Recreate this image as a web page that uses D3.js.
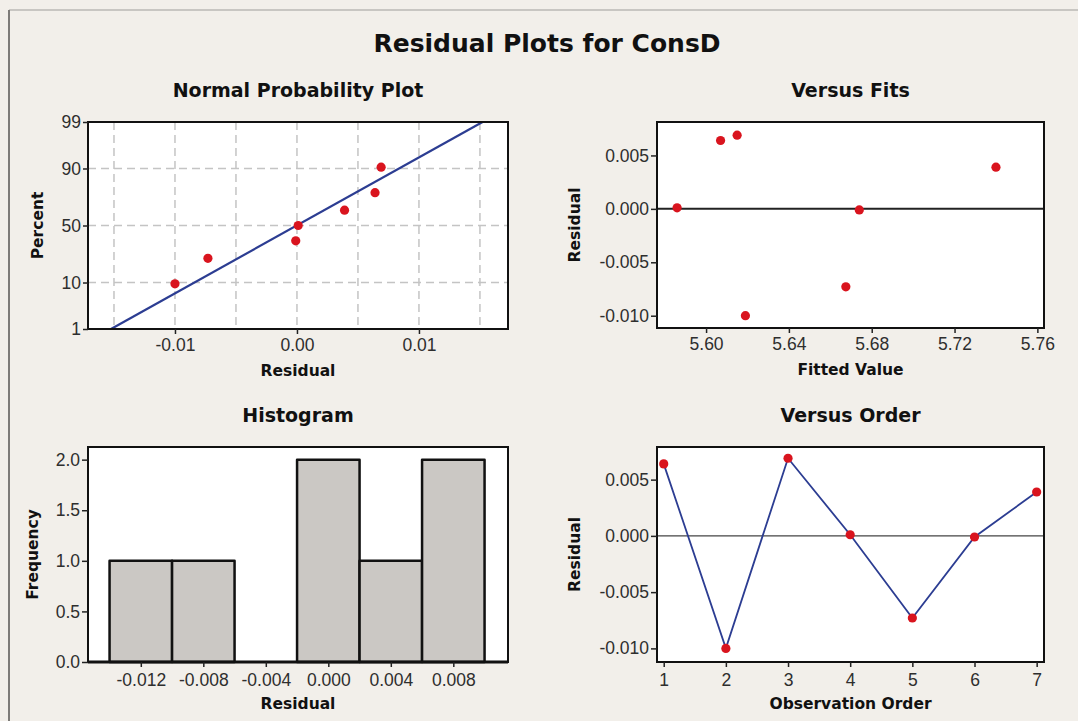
<!DOCTYPE html>
<html>
<head>
<meta charset="utf-8">
<script src="https://cdn.jsdelivr.net/npm/d3@7"></script>
<style>
  html, body { margin: 0; padding: 0; background: #f2efea; }
  svg { display: block; }
  .tick text { font-family: "Liberation Sans", Arial, sans-serif; font-size: 17.5px; fill: #2e2e2e; }
  .tick line { stroke: #222; stroke-width: 1.5; }
  .ttl { font-family: "DejaVu Sans", Verdana, sans-serif; font-weight: bold; fill: #111; text-anchor: middle; }
</style>
</head>
<body>
<svg id="chart" width="1078" height="721"></svg>
<script>
// Residuals of ConsD in observation order, and the fitted values they belong to
const observation = [1, 2, 3, 4, 5, 6, 7];
const residuals = [0.0064, -0.0100, 0.0069, 0.0001, -0.0073, -0.0001, 0.0039];
const fitted = [5.607, 5.619, 5.615, 5.586, 5.6675, 5.674, 5.740];

// Plotting positions (percent) of the sorted residuals on the normal probability plot
const probPercent = [9.5, 23.0, 36.5, 50.0, 63.5, 77.0, 90.5];

// Histogram bins (centres) and their frequencies
const binCenters = [-0.012, -0.008, -0.004, 0.000, 0.004, 0.008];
const binCounts = [1, 1, 0, 2, 1, 2];
const binWidth = 0.004;

// Tick labels
const probTicks = [1, 10, 50, 90, 99];
const probResidTicks = [-0.01, 0.00, 0.01];
const probGrid = [-0.015, -0.01, -0.005, 0, 0.005, 0.01, 0.015];
const residTicks = [0.005, 0.000, -0.005, -0.010];
const fitTicks = [5.60, 5.64, 5.68, 5.72, 5.76];
const freqTicks = [0.0, 0.5, 1.0, 1.5, 2.0];
const histTicks = [-0.012, -0.008, -0.004, 0.000, 0.004, 0.008];
const orderTicks = [1, 2, 3, 4, 5, 6, 7];

// number formats that use a plain hyphen for negatives
const locale = d3.formatLocale({ decimal: ".", thousands: ",", grouping: [3], currency: ["", ""], minus: "-" });
const fmt = s => locale.format(s);

// Inverse of the standard normal CDF (Acklam's rational approximation)
function probit(p) {
  const a = [-3.969683028665376e+01, 2.209460984245205e+02, -2.759285104469687e+02, 1.383577518672690e+02, -3.066479806614716e+01, 2.506628277459239e+00];
  const b = [-5.447609879822406e+01, 1.615858368580409e+02, -1.556989798598866e+02, 6.680131188771972e+01, -1.328068155288572e+01];
  const c = [-7.784894002430293e-03, -3.223964580411365e-01, -2.400758277161838e+00, -2.549732539343734e+00, 4.374664141464968e+00, 2.938163982698783e+00];
  const d = [7.784695709041462e-03, 3.224671290700398e-01, 2.445134137142996e+00, 3.754408661907416e+00];
  const pl = 0.02425, ph = 1 - pl;
  let q, r;
  if (p < pl) {
    q = Math.sqrt(-2 * Math.log(p));
    return (((((c[0]*q+c[1])*q+c[2])*q+c[3])*q+c[4])*q+c[5]) / ((((d[0]*q+d[1])*q+d[2])*q+d[3])*q+1);
  } else if (p <= ph) {
    q = p - 0.5; r = q * q;
    return (((((a[0]*r+a[1])*r+a[2])*r+a[3])*r+a[4])*r+a[5])*q / (((((b[0]*r+b[1])*r+b[2])*r+b[3])*r+b[4])*r+1);
  } else {
    q = Math.sqrt(-2 * Math.log(1 - p));
    return -(((((c[0]*q+c[1])*q+c[2])*q+c[3])*q+c[4])*q+c[5]) / ((((d[0]*q+d[1])*q+d[2])*q+d[3])*q+1);
  }
}

const svg = d3.select("#chart");
const RED = "#d9141e", BLUE = "#2c3d92";

// page background and the window frame lines
svg.append("rect").attr("width", 1078).attr("height", 721).attr("fill", "#f2efea");
svg.append("line").attr("x1", 9).attr("x2", 1078).attr("y1", 10).attr("y2", 10)
  .attr("stroke", "#c8c6c2").attr("stroke-width", 2);
svg.append("line").attr("x1", 9).attr("x2", 9).attr("y1", 10).attr("y2", 721)
  .attr("stroke", "#7d7b78").attr("stroke-width", 2);

svg.append("text").attr("class", "ttl").attr("x", 547).attr("y", 52)
  .style("font-size", "25px").text("Residual Plots for ConsD");

function panelBox(p) {
  svg.append("rect").attr("x", p.x0).attr("y", p.y0)
    .attr("width", p.x1 - p.x0).attr("height", p.y1 - p.y0)
    .attr("fill", "#fff");
}
function panelFrame(p) {
  svg.append("rect").attr("x", p.x0).attr("y", p.y0)
    .attr("width", p.x1 - p.x0).attr("height", p.y1 - p.y0)
    .attr("fill", "none").attr("stroke", "#111").attr("stroke-width", 2);
}
function drawAxis(axis, tx, ty) {
  const g = svg.append("g").attr("transform", `translate(${tx},${ty})`).call(axis);
  g.select(".domain").remove();
  return g;
}
function titles(p, title, xlab, ylab, ylabX) {
  const cx = (p.x0 + p.x1) / 2;
  svg.append("text").attr("class", "ttl").attr("x", cx).attr("y", p.y0 - 25)
    .style("font-size", "19px").text(title);
  svg.append("text").attr("class", "ttl").attr("x", cx).attr("y", p.y1 + 47)
    .style("font-size", "15.5px").text(xlab);
  svg.append("text").attr("class", "ttl")
    .attr("transform", `translate(${ylabX},${(p.y0 + p.y1) / 2}) rotate(-90)`)
    .style("font-size", "15.5px").text(ylab);
}

// ---------- Normal Probability Plot ----------
const p1 = { x0: 88, x1: 508, y0: 122, y1: 329 };
const x1 = d3.scaleLinear().domain([-0.01713, 0.0173]).range([p1.x0, p1.x1]);
const y1 = d3.scaleLinear().domain([probit(0.01), probit(0.99)]).range([p1.y1, p1.y0]);
panelBox(p1);
const grid = svg.append("g").attr("stroke", "#c4c4c4").attr("stroke-width", 1.5)
  .attr("stroke-dasharray", "8,5");
grid.selectAll(".gv").data(probGrid).join("line")
  .attr("x1", d => x1(d)).attr("x2", d => x1(d)).attr("y1", p1.y0).attr("y2", p1.y1);
grid.selectAll(".gh").data([10, 50, 90]).join("line")
  .attr("x1", p1.x0).attr("x2", p1.x1)
  .attr("y1", d => y1(probit(d / 100))).attr("y2", d => y1(probit(d / 100)));

const mu = d3.mean(residuals), sd = d3.deviation(residuals);
const zEnds = [probit(0.01), probit(0.99)];
svg.append("line")
  .attr("x1", x1(mu + sd * zEnds[0])).attr("y1", y1(zEnds[0]))
  .attr("x2", x1(mu + sd * zEnds[1])).attr("y2", y1(zEnds[1]))
  .attr("stroke", BLUE).attr("stroke-width", 2.2);

const sortedRes = residuals.slice().sort(d3.ascending);
svg.append("g").selectAll("circle").data(sortedRes).join("circle")
  .attr("cx", d => x1(d)).attr("cy", (d, i) => y1(probit(probPercent[i] / 100)))
  .attr("r", 4.6).attr("fill", RED);
panelFrame(p1);
drawAxis(d3.axisLeft(y1).tickValues(probTicks.map(p => probit(p / 100)))
  .tickFormat((d, i) => probTicks[i]).tickSize(5).tickPadding(2), p1.x0, 0);
drawAxis(d3.axisBottom(x1).tickValues(probResidTicks).tickFormat(fmt(".2f"))
  .tickSize(5).tickPadding(5), 0, p1.y1);
titles(p1, "Normal Probability Plot", "Residual", "Percent", 43);

// ---------- Versus Fits ----------
const p2 = { x0: 657, x1: 1044, y0: 122, y1: 328 };
const x2 = d3.scaleLinear().domain([5.5763, 5.7632]).range([p2.x0, p2.x1]);
const y2 = d3.scaleLinear().domain([-0.01115, 0.00813]).range([p2.y1, p2.y0]);
panelBox(p2);
svg.append("line").attr("x1", p2.x0).attr("x2", p2.x1).attr("y1", y2(0)).attr("y2", y2(0))
  .attr("stroke", "#222").attr("stroke-width", 2);
svg.append("g").selectAll("circle").data(residuals).join("circle")
  .attr("cx", (d, i) => x2(fitted[i])).attr("cy", d => y2(d))
  .attr("r", 4.6).attr("fill", RED);
panelFrame(p2);
drawAxis(d3.axisLeft(y2).tickValues(residTicks).tickFormat(fmt(".3f"))
  .tickSize(6).tickPadding(2), p2.x0, 0);
drawAxis(d3.axisBottom(x2).tickValues(fitTicks).tickFormat(fmt(".2f"))
  .tickSize(5).tickPadding(5), 0, p2.y1);
titles(p2, "Versus Fits", "Fitted Value", "Residual", 580);

// ---------- Histogram ----------
const p3 = { x0: 88, x1: 508, y0: 447, y1: 662 };
const x3 = d3.scaleLinear().domain([-0.01538, 0.0115]).range([p3.x0, p3.x1]);
const y3 = d3.scaleLinear().domain([0, 2.125]).range([p3.y1, p3.y0]);
panelBox(p3);
svg.append("g").selectAll("rect").data(binCenters).join("rect")
  .attr("x", d => x3(d - binWidth / 2))
  .attr("width", d => x3(d + binWidth / 2) - x3(d - binWidth / 2))
  .attr("y", (d, i) => y3(binCounts[i]))
  .attr("height", (d, i) => y3(0) - y3(binCounts[i]))
  .attr("fill", "#cbc8c4").attr("stroke", "#111").attr("stroke-width", 2.5)
  .attr("stroke-linejoin", "round");
panelFrame(p3);
svg.append("line").attr("x1", p3.x0).attr("x2", p3.x1).attr("y1", p3.y1).attr("y2", p3.y1)
  .attr("stroke", "#111").attr("stroke-width", 3);
drawAxis(d3.axisLeft(y3).tickValues(freqTicks).tickFormat(fmt(".1f"))
  .tickSize(6).tickPadding(2), p3.x0, 0);
drawAxis(d3.axisBottom(x3).tickValues(histTicks).tickFormat(fmt(".3f"))
  .tickSize(5).tickPadding(7), 0, p3.y1);
titles(p3, "Histogram", "Residual", "Frequency", 38);

// ---------- Versus Order ----------
const p4 = { x0: 657, x1: 1044, y0: 447, y1: 662 };
const x4 = d3.scaleLinear().domain([0.892, 7.118]).range([p4.x0, p4.x1]);
const y4 = d3.scaleLinear().domain([-0.01121, 0.0079]).range([p4.y1, p4.y0]);
panelBox(p4);
svg.append("line").attr("x1", p4.x0).attr("x2", p4.x1).attr("y1", y4(0)).attr("y2", y4(0))
  .attr("stroke", "#444").attr("stroke-width", 1.2);
svg.append("path").datum(residuals)
  .attr("d", d3.line().x((d, i) => x4(observation[i])).y(d => y4(d)))
  .attr("fill", "none").attr("stroke", BLUE).attr("stroke-width", 1.8);
svg.append("g").selectAll("circle").data(residuals).join("circle")
  .attr("cx", (d, i) => x4(observation[i])).attr("cy", d => y4(d))
  .attr("r", 4.6).attr("fill", RED);
panelFrame(p4);
drawAxis(d3.axisLeft(y4).tickValues(residTicks).tickFormat(fmt(".3f"))
  .tickSize(6).tickPadding(2), p4.x0, 0);
drawAxis(d3.axisBottom(x4).tickValues(orderTicks).tickFormat(fmt("d"))
  .tickSize(5).tickPadding(7), 0, p4.y1);
titles(p4, "Versus Order", "Observation Order", "Residual", 580);
</script>
</body>
</html>
